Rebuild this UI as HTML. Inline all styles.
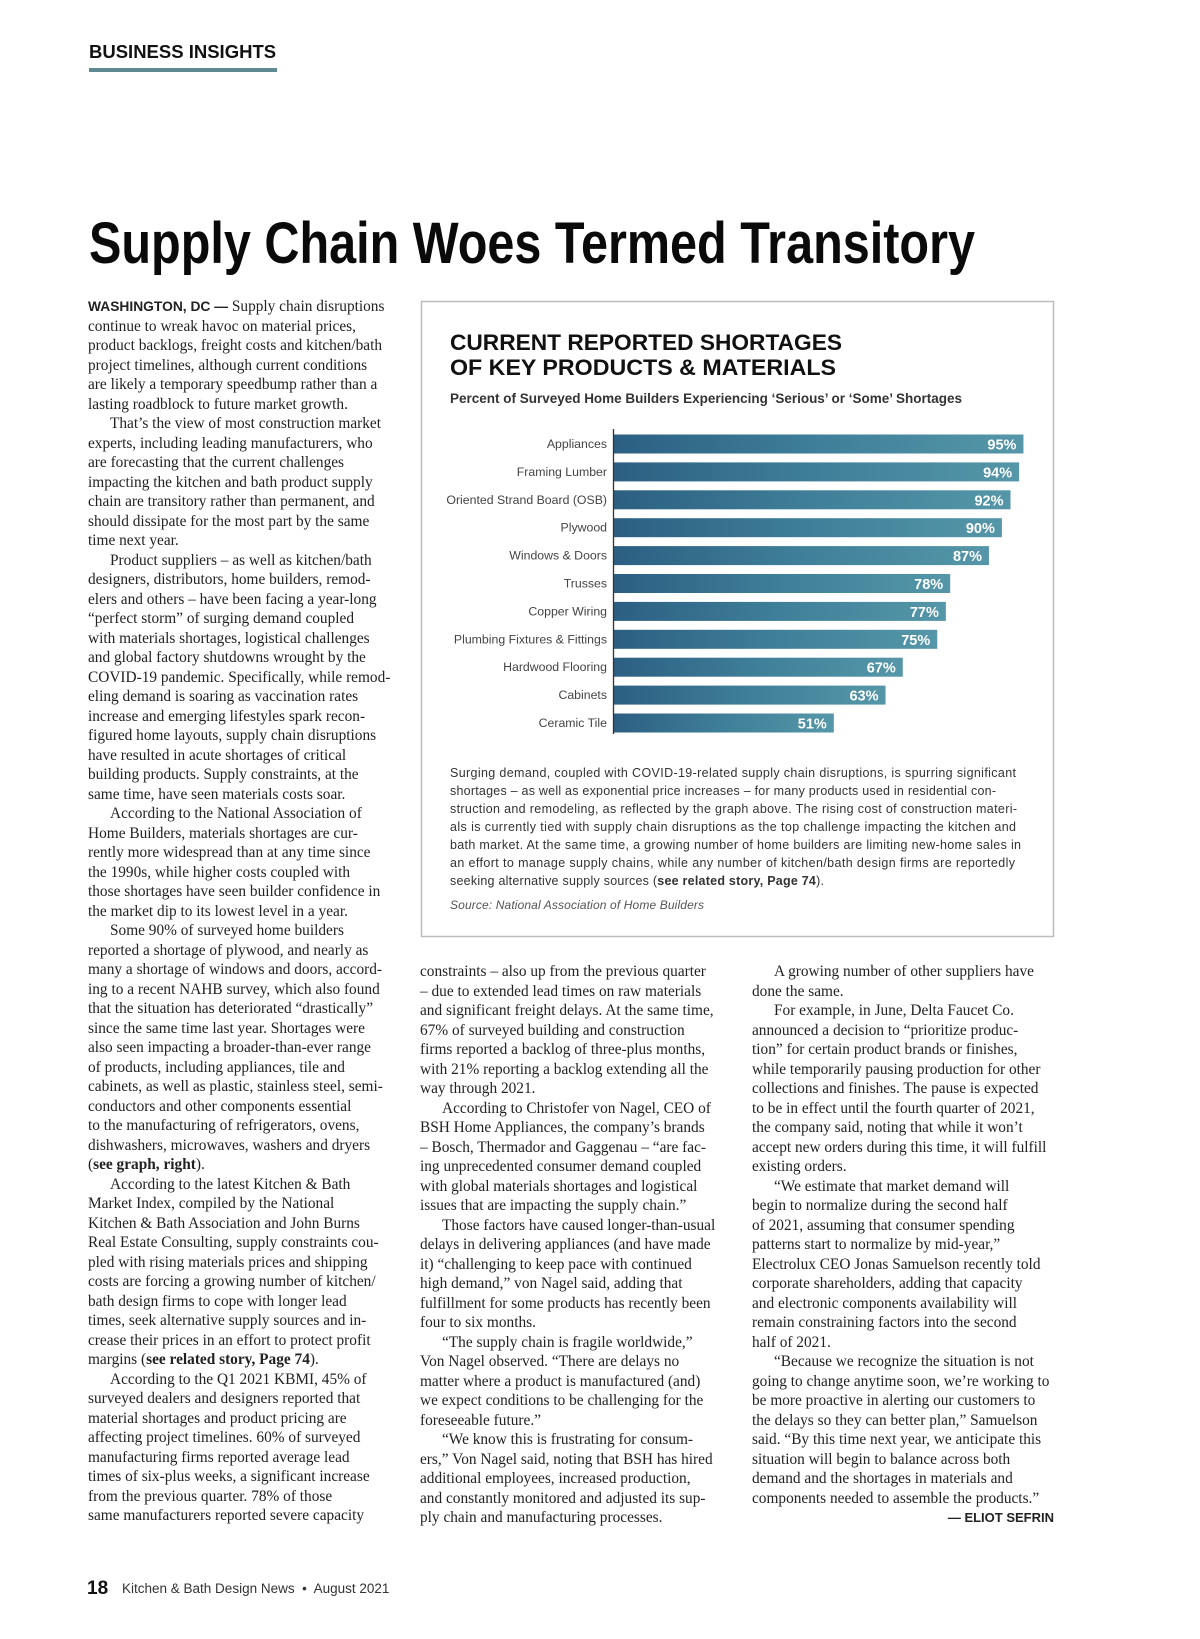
<!DOCTYPE html>
<html><head><meta charset="utf-8">
<style>
html,body{margin:0;padding:0;background:#fff;}
body{width:1200px;height:1639px;position:relative;overflow:hidden;}
.col{position:absolute;font-family:"Liberation Serif",serif;font-size:15.35px;color:#222;line-height:19.5px;}
.col div{white-space:nowrap;height:19.5px;}
.col .in{padding-left:22px;}
.sans{font-family:"Liberation Sans",sans-serif;}
</style></head>
<body>
<div class="sans" style="position:absolute;left:89px;top:41px;font-size:18.5px;font-weight:bold;color:#111;">BUSINESS INSIGHTS</div>
<div style="position:absolute;left:89px;top:68px;width:188px;height:4px;background:#5d8a93;"></div>

<svg width="1200" height="1639" style="position:absolute;left:0;top:0;" xmlns="http://www.w3.org/2000/svg">
<defs><linearGradient id="bg" x1="0" x2="1" y1="0" y2="0"><stop offset="0" stop-color="#2c5f82"/><stop offset="0.5" stop-color="#3f7f99"/><stop offset="1" stop-color="#5597a8"/></linearGradient></defs>
<text x="89" y="263" font-family="Liberation Sans, sans-serif" font-weight="bold" font-size="58" fill="#0a0a0a" textLength="886" lengthAdjust="spacingAndGlyphs">Supply Chain Woes Termed Transitory</text>
<rect x="421.5" y="301.5" width="632" height="635" fill="#fff" stroke="#bdbdbd" stroke-width="1.5"/>
<text x="450" y="350" font-family="Liberation Sans, sans-serif" font-weight="bold" font-size="22" fill="#111" textLength="392" lengthAdjust="spacingAndGlyphs">CURRENT REPORTED SHORTAGES</text>
<text x="450" y="375" font-family="Liberation Sans, sans-serif" font-weight="bold" font-size="22" fill="#111" textLength="386" lengthAdjust="spacingAndGlyphs">OF KEY PRODUCTS &amp; MATERIALS</text>
<text x="450" y="403" font-family="Liberation Sans, sans-serif" font-weight="bold" font-size="13.5" fill="#333" textLength="512" lengthAdjust="spacingAndGlyphs">Percent of Surveyed Home Builders Experiencing ‘Serious’ or ‘Some’ Shortages</text>
<g id="bars"></g>
<line x1="613.5" y1="429" x2="613.5" y2="734" stroke="#333" stroke-width="1.3"/>
<g font-family="Liberation Sans, sans-serif" font-size="12.5" fill="#333">
<text x="450" y="777" textLength="566">Surging demand, coupled with COVID-19-related supply chain disruptions, is spurring significant</text>
<text x="450" y="795" textLength="546">shortages – as well as exponential price increases – for many products used in residential con-</text>
<text x="450" y="813" textLength="567">struction and remodeling, as reflected by the graph above. The rising cost of construction materi-</text>
<text x="450" y="831" textLength="566">als is currently tied with supply chain disruptions as the top challenge impacting the kitchen and</text>
<text x="450" y="849" textLength="571">bath market. At the same time, a growing number of home builders are limiting new-home sales in</text>
<text x="450" y="867" textLength="565">an effort to manage supply chains, while any number of kitchen/bath design firms are reportedly</text>
<text x="450" y="885" textLength="374">seeking alternative supply sources (<tspan font-weight="bold">see related story, Page 74</tspan>).</text>
</g>
<text x="450" y="909" font-family="Liberation Sans, sans-serif" font-style="italic" font-size="12" fill="#555" textLength="254">Source: National Association of Home Builders</text>
</svg>

<div class="col" style="left:88px;top:297px;">
<div><b class="sans" style="font-size:13.8px">WASHINGTON, DC —</b> Supply chain disruptions</div>
<div>continue to wreak havoc on material prices,</div>
<div>product backlogs, freight costs and kitchen/bath</div>
<div>project timelines, although current conditions</div>
<div>are likely a temporary speedbump rather than a</div>
<div>lasting roadblock to future market growth.</div>
<div class="in">That’s the view of most construction market</div>
<div>experts, including leading manufacturers, who</div>
<div>are forecasting that the current challenges</div>
<div>impacting the kitchen and bath product supply</div>
<div>chain are transitory rather than permanent, and</div>
<div>should dissipate for the most part by the same</div>
<div>time next year.</div>
<div class="in">Product suppliers – as well as kitchen/bath</div>
<div>designers, distributors, home builders, remod-</div>
<div>elers and others – have been facing a year-long</div>
<div>“perfect storm” of surging demand coupled</div>
<div>with materials shortages, logistical challenges</div>
<div>and global factory shutdowns wrought by the</div>
<div>COVID-19 pandemic. Specifically, while remod-</div>
<div>eling demand is soaring as vaccination rates</div>
<div>increase and emerging lifestyles spark recon-</div>
<div>figured home layouts, supply chain disruptions</div>
<div>have resulted in acute shortages of critical</div>
<div>building products. Supply constraints, at the</div>
<div>same time, have seen materials costs soar.</div>
<div class="in">According to the National Association of</div>
<div>Home Builders, materials shortages are cur-</div>
<div>rently more widespread than at any time since</div>
<div>the 1990s, while higher costs coupled with</div>
<div>those shortages have seen builder confidence in</div>
<div>the market dip to its lowest level in a year.</div>
<div class="in">Some 90% of surveyed home builders</div>
<div>reported a shortage of plywood, and nearly as</div>
<div>many a shortage of windows and doors, accord-</div>
<div>ing to a recent NAHB survey, which also found</div>
<div>that the situation has deteriorated “drastically”</div>
<div>since the same time last year. Shortages were</div>
<div>also seen impacting a broader-than-ever range</div>
<div>of products, including appliances, tile and</div>
<div>cabinets, as well as plastic, stainless steel, semi-</div>
<div>conductors and other components essential</div>
<div>to the manufacturing of refrigerators, ovens,</div>
<div>dishwashers, microwaves, washers and dryers</div>
<div>(<b>see graph, right</b>).</div>
<div class="in">According to the latest Kitchen &amp; Bath</div>
<div>Market Index, compiled by the National</div>
<div>Kitchen &amp; Bath Association and John Burns</div>
<div>Real Estate Consulting, supply constraints cou-</div>
<div>pled with rising materials prices and shipping</div>
<div>costs are forcing a growing number of kitchen/</div>
<div>bath design firms to cope with longer lead</div>
<div>times, seek alternative supply sources and in-</div>
<div>crease their prices in an effort to protect profit</div>
<div>margins (<b>see related story, Page 74</b>).</div>
<div class="in">According to the Q1 2021 KBMI, 45% of</div>
<div>surveyed dealers and designers reported that</div>
<div>material shortages and product pricing are</div>
<div>affecting project timelines. 60% of surveyed</div>
<div>manufacturing firms reported average lead</div>
<div>times of six-plus weeks, a significant increase</div>
<div>from the previous quarter. 78% of those</div>
<div>same manufacturers reported severe capacity</div>
</div>

<div class="col" style="left:420px;top:962px;">
<div>constraints – also up from the previous quarter</div>
<div>– due to extended lead times on raw materials</div>
<div>and significant freight delays. At the same time,</div>
<div>67% of surveyed building and construction</div>
<div>firms reported a backlog of three-plus months,</div>
<div>with 21% reporting a backlog extending all the</div>
<div>way through 2021.</div>
<div class="in">According to Christofer von Nagel, CEO of</div>
<div>BSH Home Appliances, the company’s brands</div>
<div>– Bosch, Thermador and Gaggenau – “are fac-</div>
<div>ing unprecedented consumer demand coupled</div>
<div>with global materials shortages and logistical</div>
<div>issues that are impacting the supply chain.”</div>
<div class="in">Those factors have caused longer-than-usual</div>
<div>delays in delivering appliances (and have made</div>
<div>it) “challenging to keep pace with continued</div>
<div>high demand,” von Nagel said, adding that</div>
<div>fulfillment for some products has recently been</div>
<div>four to six months.</div>
<div class="in">“The supply chain is fragile worldwide,”</div>
<div>Von Nagel observed. “There are delays no</div>
<div>matter where a product is manufactured (and)</div>
<div>we expect conditions to be challenging for the</div>
<div>foreseeable future.”</div>
<div class="in">“We know this is frustrating for consum-</div>
<div>ers,” Von Nagel said, noting that BSH has hired</div>
<div>additional employees, increased production,</div>
<div>and constantly monitored and adjusted its sup-</div>
<div>ply chain and manufacturing processes.</div>
</div>

<div class="col" style="left:752px;top:962px;width:302px;">
<div class="in">A growing number of other suppliers have</div>
<div>done the same.</div>
<div class="in">For example, in June, Delta Faucet Co.</div>
<div>announced a decision to “prioritize produc-</div>
<div>tion” for certain product brands or finishes,</div>
<div>while temporarily pausing production for other</div>
<div>collections and finishes. The pause is expected</div>
<div>to be in effect until the fourth quarter of 2021,</div>
<div>the company said, noting that while it won’t</div>
<div>accept new orders during this time, it will fulfill</div>
<div>existing orders.</div>
<div class="in">“We estimate that market demand will</div>
<div>begin to normalize during the second half</div>
<div>of 2021, assuming that consumer spending</div>
<div>patterns start to normalize by mid-year,”</div>
<div>Electrolux CEO Jonas Samuelson recently told</div>
<div>corporate shareholders, adding that capacity</div>
<div>and electronic components availability will</div>
<div>remain constraining factors into the second</div>
<div>half of 2021.</div>
<div class="in">“Because we recognize the situation is not</div>
<div>going to change anytime soon, we’re working to</div>
<div>be more proactive in alerting our customers to</div>
<div>the delays so they can better plan,” Samuelson</div>
<div>said. “By this time next year, we anticipate this</div>
<div>situation will begin to balance across both</div>
<div>demand and the shortages in materials and</div>
<div>components needed to assemble the products.”</div>
<div class="sans" style="text-align:right;font-weight:bold;font-size:13px;">— ELIOT SEFRIN</div>
</div>

<div class="sans" style="position:absolute;left:87px;top:1578px;font-size:19px;font-weight:bold;color:#111;">18</div>
<div class="sans" style="position:absolute;left:122px;top:1581px;font-size:13.5px;color:#333;">Kitchen &amp; Bath Design News &nbsp;•&nbsp; August 2021</div>

<script>
const categories = ["Appliances","Framing Lumber","Oriented Strand Board (OSB)","Plywood","Windows & Doors","Trusses","Copper Wiring","Plumbing Fixtures & Fittings","Hardwood Flooring","Cabinets","Ceramic Tile"];
const values = [95,94,92,90,87,78,77,75,67,63,51];
const valueLabels = ["95%","94%","92%","90%","87%","78%","77%","75%","67%","63%","51%"];

const NS = "http://www.w3.org/2000/svg";
const x0 = 614, pxPer = 4.31;
const xScale = v => x0 + v * pxPer;
const rowTop = 444, rowStep = 27.9, barH = 19;
const yCenter = i => rowTop + i * rowStep;
const g = document.getElementById('bars');
categories.forEach((c, i) => {
  const yc = yCenter(i);
  const r = document.createElementNS(NS, 'rect');
  r.setAttribute('x', x0);
  r.setAttribute('y', yc - barH / 2);
  r.setAttribute('width', xScale(values[i]) - x0);
  r.setAttribute('height', barH);
  r.setAttribute('fill', 'url(#bg)');
  
  
  g.appendChild(r);
  const l = document.createElementNS(NS, 'text');
  l.setAttribute('x', 607);
  l.setAttribute('y', yc + 4);
  l.setAttribute('text-anchor', 'end');
  l.setAttribute('font-family', 'Liberation Sans, sans-serif');
  l.setAttribute('font-size', '12.3');
  l.setAttribute('fill', '#444');
  l.textContent = c;
  
  
  g.appendChild(l);
  const v = document.createElementNS(NS, 'text');
  v.setAttribute('x', xScale(values[i]) - 7);
  v.setAttribute('y', yc + 5.5);
  v.setAttribute('text-anchor', 'end');
  v.setAttribute('font-family', 'Liberation Sans, sans-serif');
  v.setAttribute('font-size', '14.5');
  v.setAttribute('font-weight', 'bold');
  v.setAttribute('fill', '#fff');
  v.textContent = valueLabels[i];
  
  
  g.appendChild(v);
});
</script>
</body></html>
